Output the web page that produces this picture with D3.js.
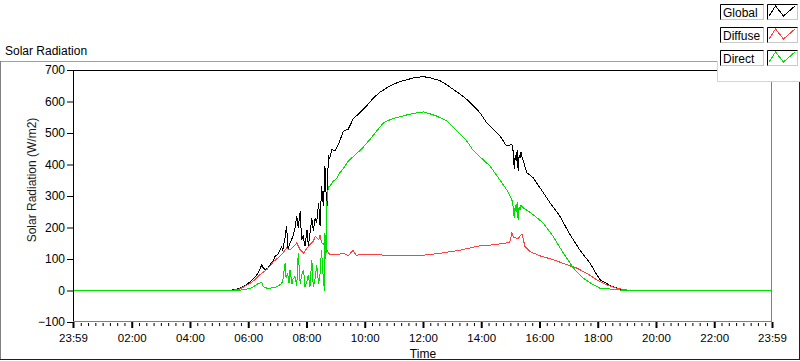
<!DOCTYPE html>
<html>
<head>
<meta charset="utf-8">
<script src="https://cdn.jsdelivr.net/npm/d3@7"></script>
<style>
body { margin: 0; background: #fff; }
svg { display: block; font-family: "Liberation Sans", Arial, sans-serif; font-size: 12px; }
.axis path.domain { display: none; }
.axis text { font-size: 12px; fill: #000; }
.xaxis text { font-size: 11.5px; }
</style>
</head>
<body>
<svg class="chart" width="800" height="361"></svg>
<script>
// minutes since midnight, the axis runs from 23:59 the day before to 23:59
var globalTime = [-1, 320, 333, 343, 353, 364, 374, 380, 388, 390, 395, 401, 405, 411, 415, 421, 429, 431, 436, 439, 442, 446, 452, 456, 460, 463, 467, 470, 473, 477, 481, 484, 487, 491, 494, 498, 501, 505, 508, 511, 515, 518, 522, 525, 528, 532, 539, 546, 556, 566, 576, 590, 604, 617, 631, 645, 659, 673, 686, 704, 721, 738, 755, 769, 782, 796, 810, 824, 837, 851, 858, 872, 879, 892, 899, 903, 906, 908, 910, 912, 914, 916, 918, 920, 922, 924, 934, 947, 961, 982, 1002, 1023, 1043, 1064, 1078, 1085, 1105, 1126, 1146, 1439];
var globalValue = [0, 0, 3, 8, 15, 28, 42, 55, 82, 74, 66, 72, 82, 92, 108, 115, 140, 125, 170, 204, 130, 150, 172, 195, 235, 200, 251, 161, 175, 140, 193, 140, 180, 230, 190, 230, 215, 278, 204, 331, 267, 395, 250, 427, 420, 448, 443, 464, 506, 512, 544, 565, 586, 610, 629, 643, 655, 663, 669, 676, 679, 674, 666, 653, 639, 624, 607, 586, 565, 533, 522, 501, 490, 459, 462, 464, 440, 385, 430, 410, 445, 380, 430, 420, 440, 425, 374, 358, 326, 278, 236, 177, 129, 87, 50, 34, 16, 4, 0, 0];

var diffuseTime = [-1, 325, 343, 364, 374, 384, 398, 405, 412, 425, 431, 439, 446, 453, 460, 467, 474, 481, 487, 494, 498, 505, 508, 511, 518, 522, 528, 542, 556, 566, 576, 582, 601, 631, 673, 720, 755, 796, 837, 865, 892, 899, 903, 906, 910, 916, 924, 927, 930, 940, 961, 988, 1016, 1037, 1057, 1078, 1098, 1119, 1146, 1439];
var diffuseValue = [0, 0, 5, 23, 35, 50, 66, 78, 92, 108, 118, 135, 128, 140, 151, 129, 119, 135, 145, 156, 172, 161, 175, 151, 145, 129, 113, 113, 119, 110, 128, 112, 115, 113, 110, 112, 118, 128, 142, 145, 151, 154, 183, 170, 167, 165, 180, 160, 140, 124, 110, 98, 82, 71, 55, 34, 18, 7, 0, 0];

var directTime = [-1, 330, 349, 364, 374, 381, 388, 391, 397, 405, 419, 425, 429, 431, 436, 438, 441, 444, 446, 450, 452, 456, 460, 463, 467, 470, 474, 477, 481, 484, 487, 491, 494, 498, 501, 505, 508, 511, 515, 517, 518, 520, 522, 525, 528, 535, 542, 549, 557, 566, 580, 594, 611, 625, 639, 652, 666, 683, 700, 721, 734, 748, 769, 790, 810, 821, 837, 858, 872, 892, 903, 906, 908, 910, 912, 914, 916, 918, 920, 922, 927, 947, 968, 988, 1009, 1030, 1050, 1071, 1085, 1112, 1136, 1439];
var directValue = [0, 0, 2, 7, 15, 23, 25, 12, 8, 7, 12, 18, 23, 30, 87, 40, 55, 25, 66, 20, 35, 44, 15, 119, 20, 50, 66, 12, 30, 50, 10, 98, 10, 40, 82, 20, 55, 129, 30, 0, 183, 100, 278, 331, 330, 347, 355, 374, 390, 411, 430, 450, 480, 507, 533, 542, 549, 556, 562, 567, 561, 554, 538, 506, 475, 450, 425, 395, 365, 321, 289, 265, 230, 270, 250, 280, 225, 265, 255, 270, 262, 241, 214, 172, 119, 71, 39, 18, 7, 4, 0, 0];

var seriesNames = ["Global", "Diffuse", "Direct"];
var yTicks = [-100, 0, 100, 200, 300, 400, 500, 600, 700];
var xTickMinutes = [-1, 120, 240, 360, 480, 600, 720, 840, 960, 1080, 1200, 1320, 1439];
var xTickLabels = ["23:59", "02:00", "04:00", "06:00", "08:00", "10:00", "12:00", "14:00", "16:00", "18:00", "20:00", "22:00", "23:59"];

var colors = ["#000000", "#ff4040", "#00e000"];

var chart = d3.select(".chart");

// plot area
var plotLeft = 73, plotRight = 772, plotTop = 70, plotBottom = 322;

var x = d3.scaleLinear().domain([-1, 1439]).range([plotLeft, plotRight]);
var y = d3.scaleLinear().domain([-100, 700]).range([plotBottom, plotTop]);

// outer frame of the graph
chart.append("line").attr("x1", 0).attr("x2", 717).attr("y1", 61.5).attr("y2", 61.5).attr("stroke", "#a0a0a0");
chart.append("line").attr("x1", 0.5).attr("x2", 0.5).attr("y1", 61).attr("y2", 360).attr("stroke", "#808080");
chart.append("line").attr("x1", 0).attr("x2", 800).attr("y1", 359.5).attr("y2", 359.5).attr("stroke", "#202020");
chart.append("line").attr("x1", 799.5).attr("x2", 799.5).attr("y1", 82).attr("y2", 360).attr("stroke", "#202020");

chart.append("text").attr("x", 5).attr("y", 55).text("Solar Radiation");

// clip for the plots
chart.append("clipPath").attr("id", "plotclip")
    .append("rect").attr("x", plotLeft).attr("y", plotTop).attr("width", plotRight - plotLeft).attr("height", plotBottom - plotTop);

var line = d3.line()
    .x(function(d) { return x(d[0]); })
    .y(function(d) { return y(d[1]); });

var series = [
    d3.zip(globalTime, globalValue),
    d3.zip(diffuseTime, diffuseValue),
    d3.zip(directTime, directValue)
];

chart.append("g").attr("clip-path", "url(#plotclip)")
    .selectAll("path")
    .data(series)
    .enter().append("path")
    .attr("d", line)
    .attr("fill", "none")
    .attr("stroke", function(d, i) { return colors[i]; })
    .attr("stroke-width", 1)
    .attr("shape-rendering", "crispEdges");

// plot frame, black top/left and grey right/bottom
chart.append("line").attr("x1", plotLeft).attr("x2", plotRight).attr("y1", plotTop + 0.5).attr("y2", plotTop + 0.5).attr("stroke", "#000");
chart.append("line").attr("x1", plotLeft + 0.5).attr("x2", plotLeft + 0.5).attr("y1", plotTop).attr("y2", plotBottom).attr("stroke", "#000");
chart.append("line").attr("x1", plotRight - 0.5).attr("x2", plotRight - 0.5).attr("y1", plotTop).attr("y2", plotBottom).attr("stroke", "#808080");
chart.append("line").attr("x1", plotLeft).attr("x2", plotRight).attr("y1", plotBottom - 0.5).attr("y2", plotBottom - 0.5).attr("stroke", "#808080");

// y axis
chart.append("g").attr("class", "axis")
    .attr("transform", "translate(" + plotLeft + ",0)")
    .call(d3.axisLeft(y).tickValues(yTicks).tickSize(6).tickPadding(2))
    .selectAll("line").attr("stroke", "#000");

chart.append("text")
    .attr("transform", "translate(36,180) rotate(-90)")
    .attr("text-anchor", "middle")
    .attr("fill", "#1a1a1a")
    .text("Solar Radiation (W/m2)");

// x axis, minor ticks every 15 minutes
var minorTicks = [];
for (var m = 15; m < 1439; m += 15) {
    if (m % 120 != 0) minorTicks.push(m);
}

chart.append("g").attr("class", "axis")
    .attr("transform", "translate(0," + (plotBottom + 1) + ")")
    .call(d3.axisBottom(x).tickValues(minorTicks).tickFormat("").tickSize(3))
    .selectAll("line").attr("stroke", "#000");

var xAxis = chart.append("g").attr("class", "axis xaxis")
    .attr("transform", "translate(0," + plotBottom + ")")
    .call(d3.axisBottom(x).tickValues(xTickMinutes)
        .tickFormat(function(d, i) { return xTickLabels[i]; })
        .tickSize(6).tickPadding(5.5));
xAxis.selectAll("line").attr("stroke", "#000").attr("stroke-width", 2);

chart.append("text")
    .attr("x", x(720)).attr("y", 358)
    .attr("text-anchor", "middle")
    .text("Time");

// legend panel
var legend = chart.append("g");
legend.append("rect").attr("x", 717).attr("y", 0).attr("width", 83).attr("height", 82).attr("fill", "#fff");
legend.append("line").attr("x1", 717.5).attr("x2", 717.5).attr("y1", 61).attr("y2", 82).attr("stroke", "#d4d4d4");
legend.append("line").attr("x1", 717).attr("x2", 800).attr("y1", 81.5).attr("y2", 81.5).attr("stroke", "#d4d4d4");

var rowTop = [4, 27, 50];

var rows = legend.selectAll("g.row")
    .data(seriesNames)
    .enter().append("g")
    .attr("class", "row")
    .attr("transform", function(d, i) { return "translate(0," + rowTop[i] + ")"; });

function sunkenBox(g, bx, bw) {
    g.append("rect").attr("x", bx + 0.5).attr("y", 0.5).attr("width", bw).attr("height", 15)
        .attr("fill", "#fff").attr("stroke", "#c8c8c8");
    g.append("path").attr("d", "M" + (bx + 0.5) + ",15.5V0.5H" + (bx + bw + 0.5))
        .attr("fill", "none").attr("stroke", "#000");
}

rows.each(function(d, i) {
    var g = d3.select(this);
    sunkenBox(g, 720, 43);
    sunkenBox(g, 767, 30);
    g.append("text").attr("x", 723).attr("y", 12.5).text(d);
    g.append("path")
        .attr("d", "M769,12L775.5,2L783.5,12L795.5,1.5")
        .attr("fill", "none")
        .attr("stroke", colors[i])
        .attr("shape-rendering", "crispEdges");
});
</script>
</body>
</html>
